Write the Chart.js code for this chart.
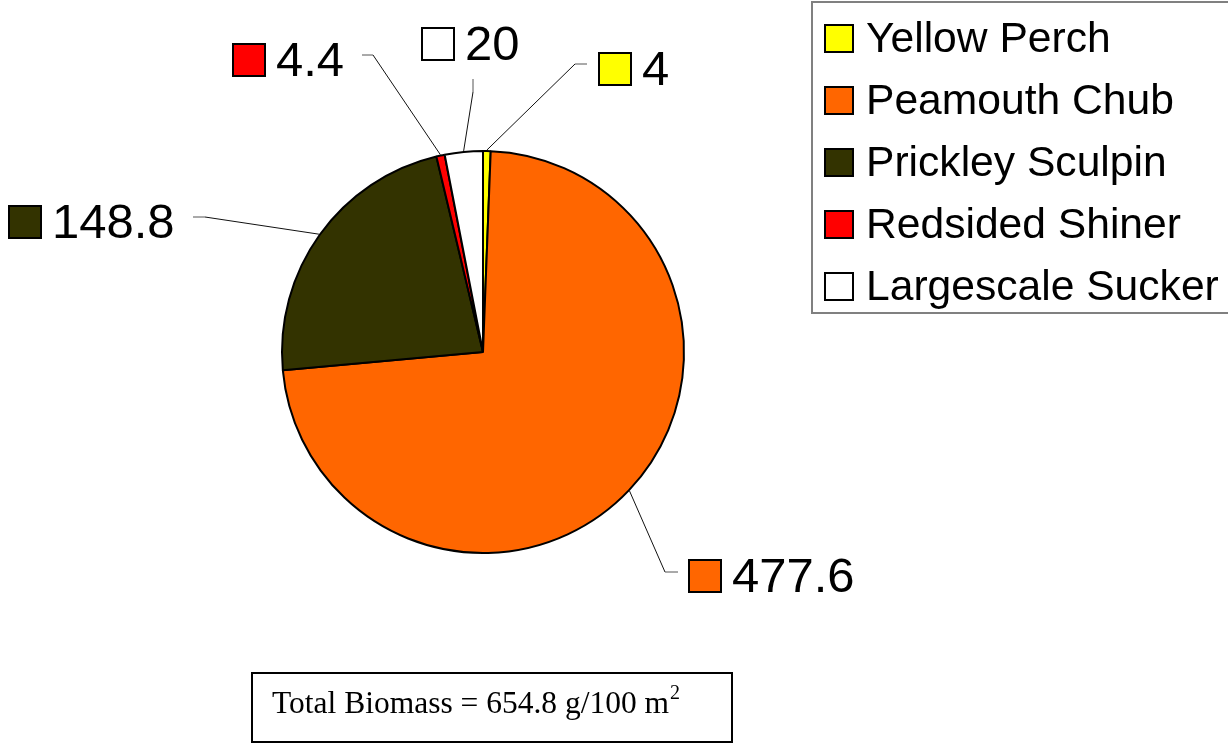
<!DOCTYPE html>
<html>
<head>
<meta charset="utf-8">
<title>Fish biomass</title>
<script src="https://cdn.jsdelivr.net/npm/chart.js@4/dist/chart.umd.min.js"></script>
<style>
  html, body { margin: 0; padding: 0; background: #fff; }
  canvas { display: block; }
</style>
</head>
<body>
<canvas id="biomassChart" width="1228" height="746"></canvas>
<script>
// species and biomass (g/100 m2)
const species = ["Yellow Perch", "Peamouth Chub", "Prickley Sculpin", "Redsided Shiner", "Largescale Sucker"];
const biomass = [4, 477.6, 148.8, 4.4, 20];
const sliceColors = ["#FFFF00", "#FF6600", "#333300", "#FF0000", "#FFFFFF"];
const totalText = "Total Biomass = 654.8 g/100 m";

// where each value label sits, and the bend of its leader line
const labelLayout = [
    { box: [598, 52], elbow: [575, 64], end: [587, 64] },
    { box: [688, 559], elbow: [665, 572], end: [678, 572] },
    { box: [8, 205], elbow: [205, 217], end: [193, 217] },
    { box: [232, 43], elbow: [373, 55], end: [362, 55] },
    { box: [421, 27], elbow: [473, 92], end: [473, 79] }
];

const sansFont = "'Liberation Sans', Arial, sans-serif";
const serifFont = "'Liberation Serif', 'Times New Roman', serif";

function drawKey(ctx, x, y, w, h, color) {
    ctx.fillStyle = color;
    ctx.fillRect(x, y, w, h);
    ctx.lineWidth = 2;
    ctx.strokeStyle = "#000";
    ctx.strokeRect(x + 1, y + 1, w - 2, h - 2);
}

const extrasPlugin = {
    id: "extras",
    afterDraw(chart) {
        const ctx = chart.ctx;
        const arcs = chart.getDatasetMeta(0).data;
        ctx.save();

        // leader lines and value labels
        arcs.forEach(function (arc, i) {
            const lay = labelLayout[i];
            const mid = (arc.startAngle + arc.endAngle) / 2;
            const r = arc.outerRadius + 1;
            const px = arc.x + Math.cos(mid) * r;
            const py = arc.y + Math.sin(mid) * r;
            ctx.beginPath();
            ctx.moveTo(px, py);
            ctx.lineTo(lay.elbow[0], lay.elbow[1]);
            ctx.lineWidth = 1;
            ctx.strokeStyle = "#111";
            ctx.stroke();
            ctx.beginPath();
            ctx.moveTo(lay.elbow[0], lay.elbow[1]);
            ctx.lineTo(lay.end[0], lay.end[1]);
            ctx.strokeStyle = "#555";
            ctx.stroke();

            drawKey(ctx, lay.box[0], lay.box[1], 34, 34, sliceColors[i]);
            ctx.fillStyle = "#000";
            ctx.font = "49px " + sansFont;
            ctx.textBaseline = "alphabetic";
            ctx.textAlign = "left";
            ctx.fillText(String(biomass[i]), lay.box[0] + 44, lay.box[1] + 33);
        });

        // legend box
        ctx.lineWidth = 2;
        ctx.strokeStyle = "#808080";
        ctx.strokeRect(812, 2, 420, 311);
        species.forEach(function (name, i) {
            const cy = 38 + i * 62;
            drawKey(ctx, 824, cy - 14, 30, 29, sliceColors[i]);
            ctx.fillStyle = "#000";
            ctx.font = "42.6px " + sansFont;
            ctx.fillText(name, 866, cy + 14);
        });

        // total biomass note
        ctx.lineWidth = 2;
        ctx.strokeStyle = "#000";
        ctx.strokeRect(252, 673, 480, 69);
        ctx.fillStyle = "#000";
        ctx.font = "31.5px " + serifFont;
        ctx.fillText(totalText, 272, 713);
        const w = ctx.measureText(totalText).width;
        ctx.font = "20px " + serifFont;
        ctx.fillText("2", 272 + w + 1, 699);

        ctx.restore();
    }
};

const ctx = document.getElementById("biomassChart").getContext("2d");
new Chart(ctx, {
    type: "pie",
    data: {
        labels: species,
        datasets: [{
            data: biomass,
            backgroundColor: sliceColors,
            borderColor: "#000",
            borderWidth: 2
        }]
    },
    options: {
        responsive: false,
        animation: false,
        radius: 201,
        layout: { padding: { left: 80, right: 342, top: 100, bottom: 142 } },
        plugins: {
            legend: { display: false },
            tooltip: { enabled: false }
        }
    },
    plugins: [extrasPlugin]
});
</script>
</body>
</html>
